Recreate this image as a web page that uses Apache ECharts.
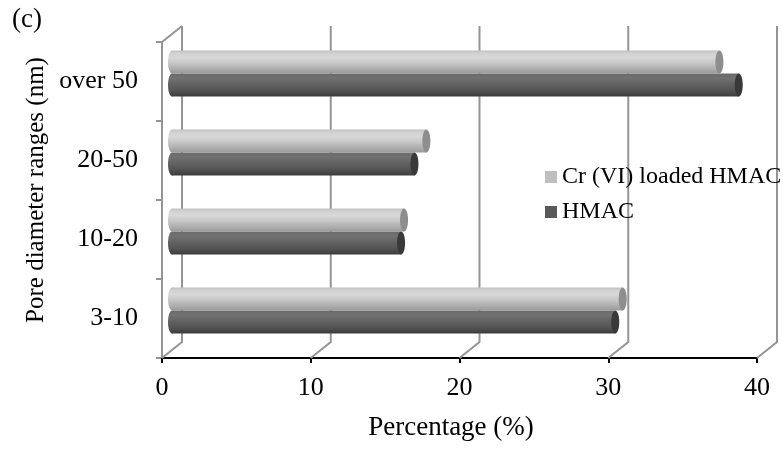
<!DOCTYPE html>
<html>
<head>
<meta charset="utf-8">
<script src="https://cdn.jsdelivr.net/npm/echarts@6/dist/echarts.min.js"></script>
<style>
  html, body { margin: 0; padding: 0; background: #fff; }
  #chart { width: 783px; height: 458px; }
</style>
</head>
<body>
<div id="chart"></div>
<script>
// Pore size distribution by diameter range (percentage of pores)
const categories = ['3-10', '10-20', '20-50', 'over 50'];
const crLoadedHmac = [30.3, 15.6, 17.1, 36.8];
const hmac = [29.8, 15.4, 16.3, 38.1];
const xTicks = [0, 10, 20, 30, 40];
const seriesNames = ['Cr (VI) loaded HMAC', 'HMAC'];

const FONT = '"Liberation Serif", "Times New Roman", serif';
// depth of the pseudo-3D box (back wall offset from the front plane)
const DEPTH_X = 20, DEPTH_Y = -16;
const GRID_COLOR = '#959595';

const lg = (stops) => new echarts.graphic.LinearGradient(0, 0, 0, 1,
  stops.map(([o, c]) => ({ offset: o, color: c })));

const palettes = [
  { // light cylinder
    body: [[0, '#c0c0c0'], [0.12, '#d2d2d2'], [0.3, '#d8d8d8'], [0.55, '#c6c6c6'], [0.8, '#adadad'], [1, '#9a9a9a']],
    cap: '#8e8e8e', legend: '#bfbfbf'
  },
  { // dark cylinder
    body: [[0, '#6a6a6a'], [0.2, '#717171'], [0.45, '#636363'], [0.75, '#535353'], [1, '#3c3c3c']],
    cap: '#393939', legend: '#595959'
  }
];

const chart = echarts.init(document.getElementById('chart'), null, { renderer: 'canvas' });

// back wall gridlines and floor connectors
function renderFrame(params, api) {
  const cs = params.coordSys;
  const v = api.value(0);
  const x = api.coord([v, 0])[0];
  const bottom = cs.y + cs.height;
  const top = cs.y;
  const style = { stroke: GRID_COLOR, lineWidth: 2, fill: null };
  const children = [
    { type: 'polyline', shape: { points: [[x, bottom], [x + DEPTH_X, bottom + DEPTH_Y], [x + DEPTH_X, top + DEPTH_Y]] }, style }
  ];
  if (v === xTicks[0]) {
    children.push({ type: 'line', shape: { x1: x, y1: top, x2: x + DEPTH_X, y2: top + DEPTH_Y }, style });
  }
  return { type: 'group', children };
}

// horizontal cylinders placed at mid depth
function makeCylinder(seriesIdx) {
  const pal = palettes[seriesIdx];
  return function (params, api) {
    const cat = api.value(1);
    const val = api.value(0);
    const p0 = api.coord([0, cat]);
    const p1 = api.coord([val, cat]);
    const band = api.size([0, 1])[1];
    const h = band * 0.29;
    const dx = DEPTH_X / 2, dy = DEPTH_Y / 2;
    const yc = p0[1] + dy;
    const top = seriesIdx === 0 ? yc - h : yc;
    const x0 = p0[0] + dx, x1 = p1[0] + dx;
    const rx = 4;
    return {
      type: 'group',
      children: [
        { type: 'ellipse', shape: { cx: x0, cy: top + h / 2, rx, ry: h / 2 }, style: { fill: lg(pal.body) } },
        { type: 'rect', shape: { x: x0, y: top, width: x1 - x0, height: h }, style: { fill: lg(pal.body) } },
        { type: 'ellipse', shape: { cx: x1, cy: top + h / 2, rx, ry: h / 2 }, style: { fill: pal.cap } }
      ]
    };
  };
}

const option = {
  backgroundColor: '#fff',
  animation: false,
  textStyle: { fontFamily: FONT, color: '#000' },
  grid: { left: 162, right: 26, top: 42, bottom: 100, containLabel: false },
  legend: {
    orient: 'vertical', left: 545, top: 165, padding: 0,
    itemWidth: 12, itemHeight: 12, itemGap: 11, icon: 'rect',
    data: seriesNames,
    textStyle: { fontFamily: FONT, fontSize: 24, color: '#000' }
  },
  xAxis: {
    type: 'value', min: 0, max: 40, interval: 10,
    axisLine: { show: true, lineStyle: { color: '#000', width: 2 } },
    axisTick: { show: true, length: 5, lineStyle: { color: '#000', width: 2 } },
    axisLabel: { margin: 17, fontFamily: FONT, fontSize: 26, color: '#000',
      customValues: xTicks },
    splitLine: { show: false }
  },
  yAxis: {
    type: 'category', data: categories, boundaryGap: true,
    axisLine: { show: true, lineStyle: { color: GRID_COLOR, width: 2 } },
    axisTick: { show: true, length: 6, lineStyle: { color: GRID_COLOR, width: 2 } },
    axisLabel: { margin: 24, fontFamily: FONT, fontSize: 26, color: '#000' },
    splitLine: { show: false }
  },
  graphic: [
    { type: 'text', x: 12, y: 20, style: { text: '(c)', font: '27px ' + FONT, fill: '#000', verticalAlign: 'middle' } },
    { type: 'text', x: 36, y: 190, rotation: Math.PI / 2,
      style: { text: 'Pore diameter ranges (nm)', font: '25px ' + FONT, fill: '#000', align: 'center', verticalAlign: 'middle' } },
    { type: 'text', x: 451, y: 428,
      style: { text: 'Percentage (%)', font: '27px ' + FONT, fill: '#000', align: 'center', verticalAlign: 'middle' } }
  ],
  series: [
    {
      type: 'custom', name: 'frame', silent: true, clip: false, z: 1,
      data: xTicks.map(v => [v, 0]), encode: { x: 0, y: 1 },
      renderItem: renderFrame
    },
    {
      type: 'custom', name: seriesNames[1], silent: true, clip: false, z: 3,
      itemStyle: { color: palettes[1].legend },
      data: hmac.map((v, i) => [v, i]), encode: { x: 0, y: 1 },
      renderItem: makeCylinder(1)
    },
    {
      type: 'custom', name: seriesNames[0], silent: true, clip: false, z: 4,
      itemStyle: { color: palettes[0].legend },
      data: crLoadedHmac.map((v, i) => [v, i]), encode: { x: 0, y: 1 },
      renderItem: makeCylinder(0)
    }
  ]
};

chart.setOption(option);
</script>
</body>
</html>
